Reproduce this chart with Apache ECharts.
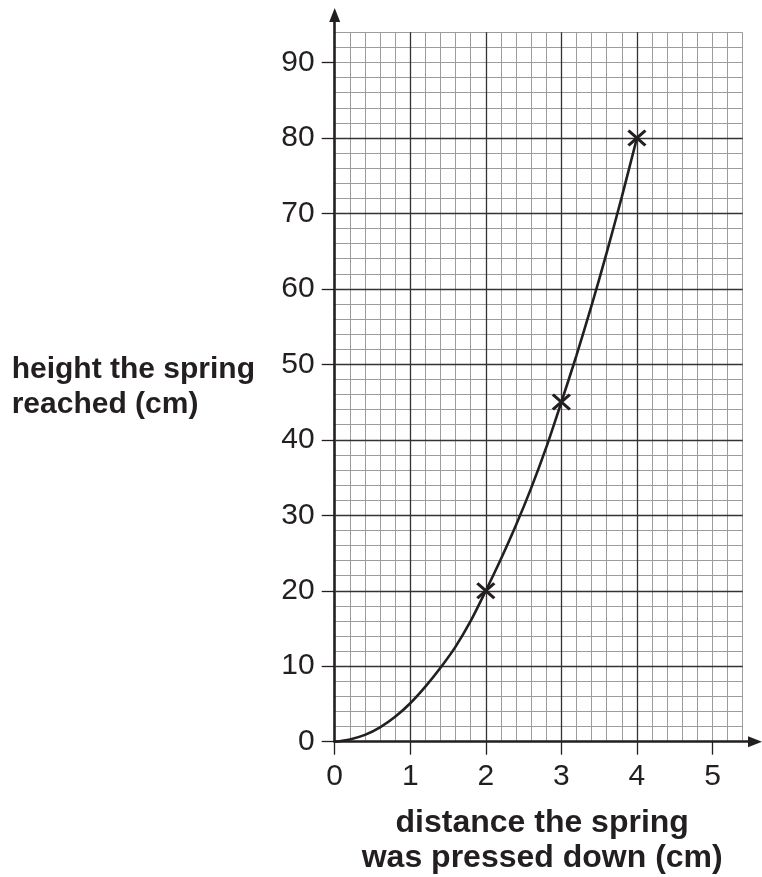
<!DOCTYPE html>
<html>
<head>
<meta charset="utf-8">
<script src="https://cdn.jsdelivr.net/npm/echarts@6/dist/echarts.min.js"></script>
<style>
  html, body { margin: 0; padding: 0; background: #fff; }
  #chart { width: 762px; height: 877px; }
</style>
</head>
<body>
<div id="chart"></div>
<script>
// points
const curveX = [0, 0.2, 0.4, 0.6, 0.8, 1, 1.2, 1.4, 1.6, 1.8, 2, 2.2, 2.4, 2.6, 2.8, 3, 3.2, 3.4, 3.6, 3.8, 4];
const curveY = [0, 0.3, 0.9, 1.9, 3.3, 5.1, 7.3, 9.8, 12.6, 16, 20, 24.2, 28.7, 33.6, 39, 45, 51.2, 57.8, 64.8, 72.2, 80];
// plotted crosses
const pointX = [2, 3, 4];
const pointY = [20, 45, 80];
// tick labels
const xTicks = [0, 1, 2, 3, 4, 5];
const yTicks = [0, 10, 20, 30, 40, 50, 60, 70, 80, 90];

const ink = '#231f20';
const font = "'Liberation Sans', Arial, sans-serif";

const option = {
    backgroundColor: '#fff',
    animation: false,
    grid: [
        { left: 334.7, top: 32.3, right: 19.3, bottom: 135.3, outerBoundsMode: 'none', containLabel: false },
        { left: 334.7, top: 15, right: 7, bottom: 135.3, outerBoundsMode: 'none', containLabel: false },
    ],
    xAxis: [{
        // minor grid
        gridIndex: 0, type: 'value', position: 'bottom', min: 0, max: 5.4, interval: 0.2, z: 0,
        axisLine: { show: false }, axisTick: { show: false }, axisLabel: { show: false },
        splitLine: { show: true, lineStyle: { color: '#9c9c9c', width: 1 } },
    }, {
        // major grid, ticks, labels
        gridIndex: 0, type: 'value', position: 'bottom', min: 0, max: 5.4, interval: 1, z: 1,
        axisLine: { show: false },
        axisTick: { show: true, length: 13, customValues: xTicks, lineStyle: { color: ink, width: 1.3 } },
        axisLabel: { customValues: xTicks, margin: 20, fontSize: 30, color: ink, fontFamily: font },
        splitLine: { show: true, showMinLine: false, showMaxLine: false, lineStyle: { color: '#333', width: 1.3 } },
        name: 'distance the spring\nwas pressed down (cm)',
        nameLocation: 'middle',
        nameGap: 64,
        nameTextStyle: { fontSize: 32, fontWeight: 'bold', lineHeight: 35, color: ink, fontFamily: font, padding: [0, 0, 0, 7] },
    }, {
        // axis line with arrow
        gridIndex: 1, type: 'value', position: 'bottom', min: 0, max: 1,
        axisLine: { show: true, symbol: ['none', 'triangle'], symbolSize: [11, 14], lineStyle: { color: ink, width: 2.6 } },
        axisTick: { show: false }, axisLabel: { show: false }, splitLine: { show: false },
    }],
    yAxis: [{
        gridIndex: 0, type: 'value', position: 'left', min: 0, max: 94, interval: 2, z: 0,
        axisLine: { show: false }, axisTick: { show: false }, axisLabel: { show: false },
        splitLine: { show: true, lineStyle: { color: '#9c9c9c', width: 1 } },
    }, {
        gridIndex: 0, type: 'value', position: 'left', min: 0, max: 94, interval: 10, z: 1,
        axisLine: { show: false },
        axisTick: { show: true, length: 13, customValues: yTicks, lineStyle: { color: ink, width: 1.3 } },
        axisLabel: { customValues: yTicks, margin: 20, fontSize: 30, color: ink, fontFamily: font },
        splitLine: { show: true, showMinLine: false, showMaxLine: false, lineStyle: { color: '#333', width: 1.3 } },
        name: 'height the spring\nreached (cm)',
        nameLocation: 'middle',
        nameRotate: 0,
        nameGap: 323,
        nameTextStyle: { align: 'left', verticalAlign: 'middle', fontSize: 30, fontWeight: 'bold', lineHeight: 35, color: ink, fontFamily: font, padding: [0, 0, 31, 0] },
    }, {
        gridIndex: 1, type: 'value', position: 'left', min: 0, max: 1,
        axisLine: { show: true, symbol: ['none', 'triangle'], symbolSize: [11, 14], lineStyle: { color: ink, width: 2.6 } },
        axisTick: { show: false }, axisLabel: { show: false }, splitLine: { show: false },
    }],
    series: [{
        type: 'line',
        xAxisIndex: 1, yAxisIndex: 1,
        data: curveX.map((x, i) => [x, curveY[i]]),
        smooth: 0.3,
        showSymbol: false,
        lineStyle: { color: ink, width: 2.6 },
        z: 5,
    }, {
        type: 'scatter',
        xAxisIndex: 1, yAxisIndex: 1,
        data: pointX.map((x, i) => [x, pointY[i]]),
        symbol: 'path://M0,0L10,9M0,9L10,0',
        symbolSize: [17, 15],
        itemStyle: { color: 'none', borderColor: ink, borderWidth: 3, opacity: 1 },
        z: 6,
    }],
};

const myChart = echarts.init(document.getElementById('chart'), null, { renderer: 'canvas' });
myChart.setOption(option);
</script>
</body>
</html>
